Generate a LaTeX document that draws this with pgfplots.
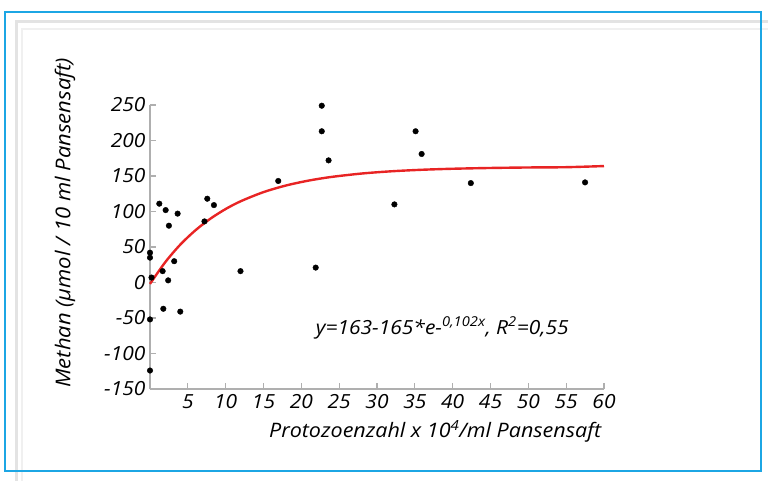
\documentclass[border=0pt]{standalone}
\usepackage{pgfplots}
\pgfplotsset{compat=1.18}
\usepackage{fontspec}
\setmainfont{Open Sans}[FakeStretch=1.08]
\definecolor{frameblue}{RGB}{28,166,228}
\definecolor{fitred}{RGB}{232,36,36}
\definecolor{axisgray}{RGB}{175,175,175}

\begin{document}
\begin{tikzpicture}
\path[use as bounding box] (0,0) rectangle (768bp,481bp);
% page decoration
\draw[gray!22,line width=3bp] (16bp,0) -- (16bp,459bp) -- (768bp,459bp);
\draw[gray!12,line width=2bp] (22bp,0) -- (22bp,452bp) -- (768bp,452bp);
\draw[frameblue,line width=2bp] (5bp,10bp) rectangle (761bp,469bp);

\begin{axis}[
    at={(150bp,92bp)},anchor=south west,
    scale only axis,width=454bp,height=284bp,
    xmin=0,xmax=60,ymin=-150,ymax=250,
    clip=false,
    axis lines*=left,
    axis line style={axisgray,line width=1.6bp},
    tick style={axisgray,line width=1.2bp},
    major tick length=6bp,
    tick align=inside,
    xtick={0,5,...,60},
    xticklabels={,5,10,15,20,25,30,35,40,45,50,55,60},
    ytick={-150,-100,...,250},
    yticklabels={-150,-100,-50,0,50,100,150,200,250},
    tick label style={font=\fontsize{19.5}{21}\selectfont\itshape},
    xticklabel style={yshift=-2bp},
    yticklabel style={xshift=-1bp},
    xlabel={Protozoenzahl x 10\textsuperscript{4}/ml Pansensaft},
    xlabel style={at={(rel axis cs:0.628,0)},anchor=north,yshift=-28bp,
      font=\fontsize{20}{22}\selectfont\itshape},
    ylabel={Methan (µmol / 10 ml Pansensaft)},
    ylabel style={at={(rel axis cs:-0.187,0.585)},anchor=center,
      font=\fontsize{20.5}{22}\selectfont\itshape},
]
\addplot[only marks,mark=*,mark size=2.8bp,black] coordinates {
  (0,-124) (0,-52) (0,42) (0,35) (0.2,7)
  (1.23,111) (2.07,102) (2.5,80) (3.65,97) (1.67,16) (3.2,30) (2.4,3)
  (1.76,-37) (4.0,-41) (7.57,118) (8.45,109) (7.2,86) (11.96,16)
  (16.95,143) (21.9,21) (22.7,249) (22.7,213) (23.6,172)
  (35.1,213) (35.9,181) (32.3,110) (42.4,140) (57.5,141)
};
\addplot[fitred,line width=2.4bp,smooth] coordinates {
  (0,-2) (2,28.4) (4,53.3) (6,73.5) (8,90) (10,103.5) (12,114.5)
  (15,127.3) (18,136.7) (21,143.6) (24,148.7) (28,153.5) (32,156.7)
  (36,158.8) (40,160.2) (45,161.3) (50,162) (55,162.4) (60,164)
};
\node[anchor=base west,inner sep=0,font=\fontsize{19.5}{21}\selectfont\itshape]
  at (axis cs:21.9,-73) {y=163-165*e-\textsuperscript{0,102x}, R\textsuperscript{2}=0,55};
\end{axis}
\end{tikzpicture}
\end{document}
